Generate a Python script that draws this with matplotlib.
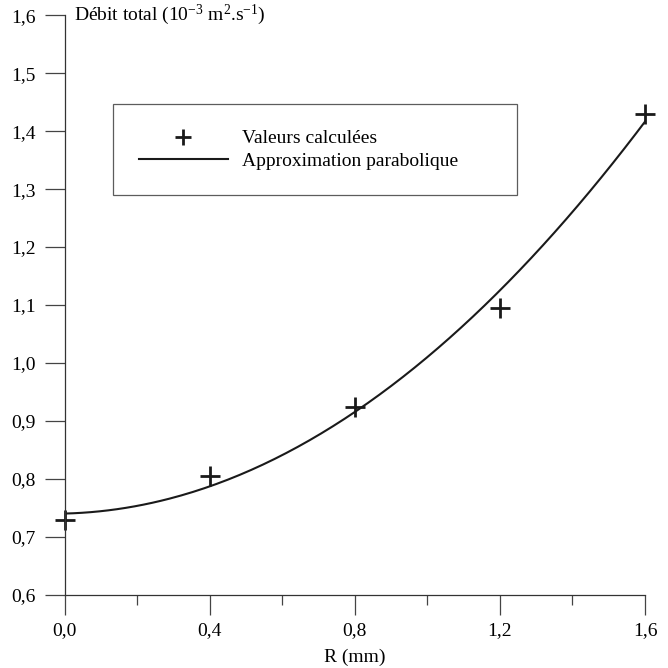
import numpy as np
import matplotlib.pyplot as plt
from matplotlib.ticker import MultipleLocator, FuncFormatter

plt.rcParams['font.family'] = ['Liberation Serif', 'DejaVu Serif']
plt.rcParams['mathtext.fontset'] = 'custom'
plt.rcParams['mathtext.rm'] = 'Liberation Serif'
plt.rcParams['mathtext.it'] = 'Liberation Serif:italic'
plt.rcParams['font.size'] = 14

# computed flow rates vs radius
r_mm = np.array([0.0, 0.4, 0.8, 1.2, 1.6])
debit = np.array([0.73, 0.805, 0.925, 1.095, 1.43])

# parabolic fit of the computed values
coef = np.polyfit(r_mm, debit, 2)
r_fit = np.linspace(0.0, 1.6, 200)
debit_fit = np.polyval(coef, r_fit)

fig = plt.figure(figsize=(6.68, 6.68), dpi=100)
ax = fig.add_axes([0.0966, 0.1093, 0.869, 0.868])

line_col = '#1a1a1a'
ax.plot(r_fit, debit_fit, color=line_col, lw=1.5, label='Approximation parabolique')
ax.plot(r_mm, debit, ls='none', marker='+', ms=15, mew=2.0, color=line_col,
        label='Valeurs calculées', clip_on=False)

ax.set_xlim(0.0, 1.6)
ax.set_ylim(0.6, 1.6)

for side in ('top', 'right'):
    ax.spines[side].set_visible(False)
for side in ('left', 'bottom'):
    ax.spines[side].set_color('#333333')
    ax.spines[side].set_linewidth(0.9)

comma = FuncFormatter(lambda v, pos: f'{v:.1f}'.replace('.', ','))
ax.xaxis.set_major_locator(MultipleLocator(0.4))
ax.xaxis.set_minor_locator(MultipleLocator(0.2))
ax.yaxis.set_major_locator(MultipleLocator(0.1))
ax.xaxis.set_major_formatter(comma)
ax.yaxis.set_major_formatter(comma)

ax.tick_params(axis='x', which='major', direction='out', length=14.4, width=0.9,
               color='#444444', pad=5)
ax.tick_params(axis='x', which='minor', direction='out', length=7.2, width=0.9,
               color='#444444')
ax.tick_params(axis='y', which='major', direction='out', length=14.4, width=0.9,
               color='#444444', pad=6.5)

ax.set_xlabel('R (mm)', labelpad=7)
ax.text(0.0155, 1.0, 'Débit total (10$^{-3}$ m$^{2}$.s$^{-1}$)',
        transform=ax.transAxes, ha='left', va='center')

handles, labels = ax.get_legend_handles_labels()
leg = ax.legend(handles[::-1], labels[::-1], loc='upper left',
                bbox_to_anchor=(0.0843, 0.846, 0.6955, 0.0), mode='expand',
                frameon=True, fancybox=False, edgecolor='#333333',
                handlelength=4.6, handletextpad=0.7, borderpad=1.3,
                labelspacing=0.25, markerscale=0.75, borderaxespad=0)
leg.get_frame().set_linewidth(0.9)

fig.savefig('out.png', dpi=100, facecolor='white')
